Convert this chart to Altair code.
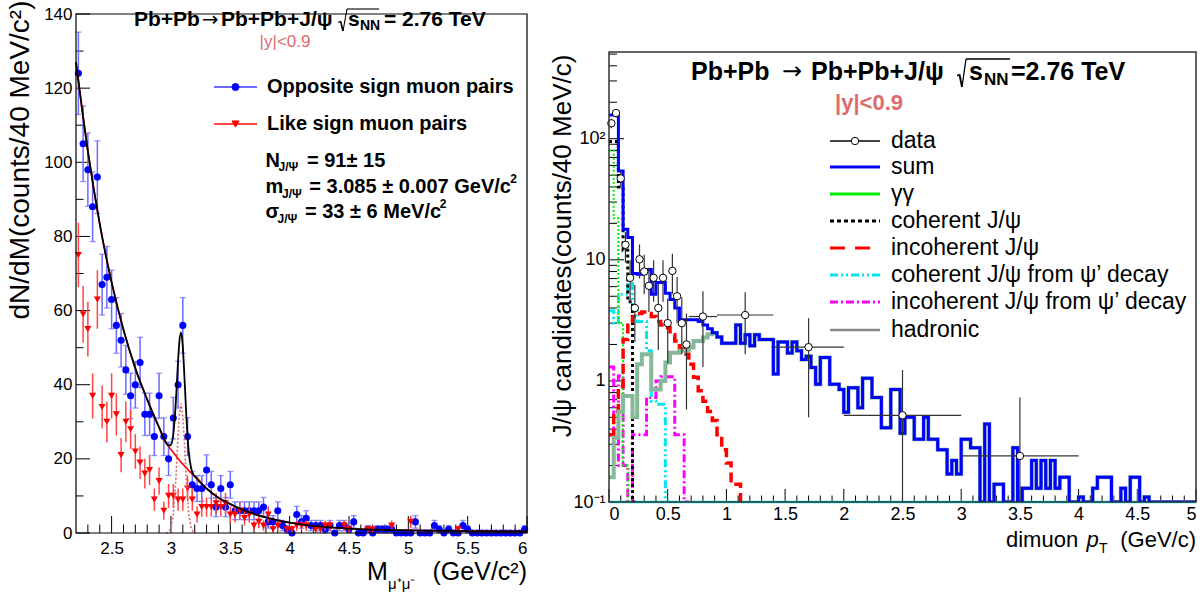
import altair as alt
import numpy as np
import pandas as pd

FONT = "Liberation Sans"
SALMON = "#dc6b6b"

# ---------------- left panel: dimuon invariant mass ----------------
mass_start = 2.2
mass_bin = 0.04
opp_counts = [124, 105, 98, 88, 96, 67, 69, 63, 56, 52,
              44, 37, 40, 46, 32, 32, 26, 37, 26, 20,
              31, 40, 56, 26, 13, 12, 12, 17, 13, 7,
              12, 7, 13, 6, 6, 6, 6, 6, 6, 7,
              3, 3, 6, 2, 1, 0, 5, 3, 4, 2,
              2, 2, 1, 2, 0, 2, 2, 1, 3, 0,
              0, 1, 0, 1, 1, 1, 1, 0, 0, 0,
              0, 3, 0, 0, 0, 2, 1, 0, 1, 0,
              0, 2, 1, 0, 0, 0, 0, 0, 0, 0,
              0, 0, 0, 0, 1]
opp_err = [11.1, 10.2, 9.9, 9.4, 9.8, 8.2, 8.3, 7.9, 7.5, 7.2,
           6.6, 6.1, 6.3, 6.8, 5.7, 5.7, 5.1, 6.1, 5.1, 4.5,
           5.6, 6.3, 7.5, 5.1, 3.6, 3.5, 3.5, 4.1, 3.6, 2.6,
           3.5, 2.6, 3.6, 2.4, 2.4, 2.4, 2.4, 2.4, 2.4, 2.6,
           1.7, 1.7, 2.4, 1.4, 1.0, 0, 2.2, 1.7, 2.0, 1.4,
           1.4, 1.4, 1.0, 1.4, 0, 1.4, 1.4, 1.0, 1.7, 0,
           0, 1.0, 0, 1.0, 1.0, 1.0, 1.0, 0, 0, 0,
           0, 1.7, 0, 0, 0, 1.4, 1.0, 0, 1.0, 0,
           0, 1.4, 1.0, 0, 0, 0, 0, 0, 0, 0,
           0, 0, 0, 0, 1.0]
like_counts = [75, 59, 55, 37, 63, 34, 30, 37, 32, 21,
               30, 28, 22, 19, 16, 17, 9, 14, 6, 10,
               10, 9, 9, 12, 9, 5, 7, 7, 7, 8,
               7, 8, 5, 5, 6, 4, 5, 2, 3, 2,
               5, 1, 2, 0, 1, 1, 2, 2, 2, 0,
               1, 1, 2, 2, 0, 0, 2, 1, 0, 0,
               0, 1, 1, 0, 0, 0, 2, 0, 0, 0,
               3, 0, 0, 0, 0, 0, 0, 0, 0, 0,
               1, 0, 0, 0, 0, 0, 0, 0, 0, 0,
               0, 0, 0, 0, 0]
like_err = [8.7, 7.7, 7.4, 6.1, 7.9, 5.8, 5.5, 6.1, 5.7, 4.6,
            5.5, 5.3, 4.7, 4.4, 4.0, 4.1, 3.0, 3.7, 2.4, 3.2,
            3.2, 3.0, 3.0, 3.5, 3.0, 2.2, 2.6, 2.6, 2.6, 2.8,
            2.6, 2.8, 2.2, 2.2, 2.4, 2.0, 2.2, 1.4, 1.7, 1.4,
            2.2, 1.0, 1.4, 0, 1.0, 1.0, 1.4, 1.4, 1.4, 0,
            1.0, 1.0, 1.4, 1.4, 0, 0, 1.4, 1.0, 0, 0,
            0, 1.0, 1.0, 0, 0, 0, 1.4, 0, 0, 0,
            1.7, 0, 0, 0, 0, 0, 0, 0, 0, 0,
            1.0, 0, 0, 0, 0, 0, 0, 0, 0, 0,
            0, 0, 0, 0, 0]
fit_x = [2.20, 2.30, 2.40, 2.50, 2.60, 2.70, 2.80, 2.90, 2.96, 2.98,
         3.00, 3.02, 3.04, 3.06, 3.07, 3.085, 3.10, 3.11, 3.13, 3.15,
         3.17, 3.19, 3.20, 3.30, 3.40, 3.50, 3.60, 3.80, 4.00, 4.20,
         4.50, 5.00, 5.50, 6.00]
fit_bg = [127, 103, 83.4, 67.6, 54.8, 44.4, 36.0, 28.5, 24.3, 23.4,
          22.5, 21.7, 20.9, 20.1, 19.7, 19.1, 18.6, 18.2, 17.6, 16.8,
          16.2, 15.5, 15.3, 12.0, 9.5, 7.8, 6.3, 4.2, 2.8, 1.9,
          1.2, 0.7, 0.5, 0.4]
fit_total = [127, 103, 83.4, 67.6, 54.8, 44.4, 36.0, 28.5, 24.3, 23.6,
             23.8, 26.7, 34.7, 46.4, 51.3, 54.1, 50.2, 44.5, 31.4, 21.8,
             17.5, 15.7, 15.3, 12.0, 9.5, 7.8, 6.3, 4.2, 2.8, 1.9,
             1.2, 0.7, 0.5, 0.4]
sig_x = [2.96, 2.98, 3.00, 3.02, 3.04, 3.06, 3.07, 3.085, 3.10, 3.11,
         3.13, 3.15, 3.17, 3.19, 3.21]
sig_y = [0.0, 0.2, 1.3, 5.0, 13.8, 26.3, 31.6, 35.0, 31.6, 26.3,
         13.8, 5.0, 1.3, 0.2, 0.0]
mass_major = [2.5, 3, 3.5, 4, 4.5, 5, 5.5, 6]
count_major = [0, 20, 40, 60, 80, 100, 120, 140]
count_minor = [10, 30, 50, 70, 90, 110, 130]

# ---------------- right panel: dimuon pT ----------------
pt_bin = 0.04
sum_vals = [157, 157, 54, 17.9, 15.3, 7.7, 7.6, 8.1, 8.3, 5.2,
            6.5, 6.5, 5.3, 4.7, 4.0, 3.2, 3.2, 3.2, 3.2, 3.1,
            2.9, 2.7, 2.5, 2.3, 2.05, 2.05, 2.05, 2.9, 2.05, 2.4,
            1.95, 2.4, 2.2, 2.2, 2.2, 1.14, 2.1, 2.1, 1.7, 2.1,
            1.77, 1.5, 1.6, 1.29, 0.94, 1.56, 1.56, 0.94, 0.94, 0.85,
            0.55, 0.88, 0.88, 0.6, 1.05, 1.05, 0.73, 0.73, 0.41, 0.41,
            0.85, 0.85, 0.37, 0.5, 0.5, 0.33, 0.33, 0.5, 0.33, 0.33,
            0.27, 0.27, 0.17, 0.22, 0.17, 0.33, 0.33, 0.28, 0.28, 0.1,
            0.44, 0.1, 0.14, 0.14, 0.1, 0.1, 0.28, 0.1, 0.13, 0.13,
            0.22, 0.13, 0.22, 0.13, 0.22, 0.13, 0.16, 0.16, 0.1, 0.1,
            0.11, 0.1, 0.1, 0.13, 0.16, 0.16, 0.16, 0.1, 0.1, 0.13,
            0.1, 0.16, 0.16, 0.1, 0.11, 0.1, 0.1, 0.1, 0.1, 0.1,
            0.1, 0.1, 0.1, 0.1, 0.1]
# hadronic template: below 0.92 GeV/c read separately, above it coincides with the sum
hadronic_low = [0.16, 0.34, 0.56, 0.75, 0.75, 0.50, 1.37, 1.66, 1.66, 0.85,
                0.85, 1.0, 1.42, 1.71, 1.71, 1.77, 1.77, 1.89, 2.14, 2.14,
                2.28, 2.43, 2.5]
incoh_vals = [0.36, 0.56, 0.9, 2.2, 3.0, 3.4, 3.6, 3.7, 3.6, 3.4,
              3.1, 2.9, 2.75, 2.4, 2.14, 1.83, 1.66, 1.37, 1.07, 0.83,
              0.68, 0.56, 0.47, 0.36, 0.27, 0.21, 0.14, 0.14, 0.1]
coh_vals = [95, 95, 40, 12, 4.5, 0.1]
gg_vals = [80, 22, 3.0, 0.2, 0.1]
coh_psi2s_vals = [3.8, 3.0, 5.2, 5.2, 7.0, 4.0, 3.1, 3.1, 1.77, 0.68, 0.64, 0.64, 0.1]
incoh_psi2s_vals = [1.3, 0.2, 1.1, 0.2, 0.1, 0.36, 0.36, 0.36, 0.73, 0.73,
                    1.0, 1.08, 1.08, 1.08, 0.36, 0.36, 0.1]
data_pt = [0.02, 0.06, 0.10, 0.14, 0.18, 0.22, 0.26, 0.30, 0.34, 0.38,
           0.42, 0.46, 0.50, 0.54, 0.58, 0.62, 0.66, 0.80, 1.16, 1.70, 2.50, 3.50]
data_val = [134, 163, 47, 13.3, 7.1, 4.0, 10.1, 8.0, 6.1, 7.1,
            4.0, 7.1, 3.0, 8.1, 5.0, 3.0, 2.0, 3.4, 3.5, 1.9, 0.52, 0.24]
data_lo = [122, 150, 40, 9.5, 4.5, 2.1, 7.0, 5.2, 3.7, 4.5,
           1.8, 4.5, 1.4, 5.2, 3.0, 1.66, 0.58, 1.3, 1.66, 0.5, 0.1, 0.1]
data_hi = [146, 176, 54, 17, 9.9, 6.2, 13.4, 11, 8.6, 9.9,
           6.3, 9.9, 4.8, 11.2, 7.2, 4.9, 3.6, 5.5, 5.4, 3.3, 1.23, 0.73]
data_xlo = [0.0, 0.04, 0.08, 0.12, 0.16, 0.20, 0.24, 0.28, 0.32, 0.36,
            0.40, 0.44, 0.48, 0.52, 0.56, 0.60, 0.64, 0.68, 0.92, 1.40, 2.0, 3.0]
data_xhi = [0.04, 0.08, 0.12, 0.16, 0.20, 0.24, 0.28, 0.32, 0.36, 0.40,
            0.44, 0.48, 0.52, 0.56, 0.60, 0.64, 0.68, 0.92, 1.40, 2.0, 3.0, 4.0]
pt_major = [0, 0.5, 1, 1.5, 2, 2.5, 3, 3.5, 4, 4.5, 5]
yield_major = [0.1, 1, 10, 100]
yield_minor = [0.2, 0.3, 0.4, 0.5, 0.6, 0.7, 0.8, 0.9, 2, 3, 4, 5, 6, 7, 8, 9,
               20, 30, 40, 50, 60, 70, 80, 90, 200, 300, 400, 500]

ONE = pd.DataFrame({"a": [0]})


def txt(x, y, s, size, bold=False, align="left", color="black", angle=None, italic=False, font=FONT):
    kw = dict(text=s, align=align, baseline="middle", fontSize=size, font=font,
              color=color, fontWeight="bold" if bold else "normal")
    if angle is not None:
        kw["angle"] = angle
    if italic:
        kw["fontStyle"] = "italic"
    return alt.Chart(ONE).mark_text(**kw).encode(x=alt.value(x), y=alt.value(y))


def seg(x1, x2, y1, y2, color, width, dash=None, opacity=1.0):
    kw = dict(color=color, strokeWidth=width, strokeOpacity=opacity)
    if dash:
        kw["strokeDash"] = dash
    return alt.Chart(ONE).mark_rule(**kw).encode(
        x=alt.value(x1), x2=alt.value(x2), y=alt.value(y1), y2=alt.value(y2))


def sqrt_sign(x0, ytop, ybot, xend, width):
    """Radical sign drawn with strokes, ROOT-style, ending in an overline."""
    ymid = ybot - (ybot - ytop) * 0.45
    return [
        seg(x0, x0 + 2.5, ymid + 1.5, ymid, "black", width),
        seg(x0 + 2.5, x0 + 5, ymid, ybot, "black", width + 0.6),
        seg(x0 + 5, x0 + 9, ybot, ytop, "black", width),
        seg(x0 + 9, xend, ytop, ytop, "black", width),
    ]


def marker(x, y, shape, size, fill, stroke):
    return alt.Chart(ONE).mark_point(shape=shape, size=size, filled=True, fill=fill,
                                     stroke=stroke, opacity=1, strokeWidth=1).encode(
        x=alt.value(x), y=alt.value(y))


def frame(w, y0, y1, color, width):
    return alt.Chart(ONE).mark_rect(fillOpacity=0, stroke=color, strokeWidth=width).encode(
        x=alt.value(0), x2=alt.value(w), y=alt.value(y0), y2=alt.value(y1))


def lab_axis(values, pad, size, fmt=None, expr=None):
    kw = dict(values=values, labelPadding=pad, labelFontSize=size, labelFont=FONT,
              labelColor="black", ticks=False, domain=False, grid=False, title=None,
              labelOverlap=False)
    if fmt:
        kw["format"] = fmt
    if expr:
        kw["labelExpr"] = expr
    return alt.Axis(**kw)


# ======================= LEFT CHART =======================
WL, HL = 451, 519
xL = alt.Scale(domain=[2.2, 6.0], nice=False, zero=False)
yL = alt.Scale(domain=[0, 140], nice=False, zero=False)
axXL = lab_axis(mass_major, 7, 17, fmt="~g")
axYL = lab_axis(count_major, 4, 17, fmt="d")


def XL(f):
    return alt.X(f, scale=xL, axis=axXL)


def YL(f):
    return alt.Y(f, scale=yL, axis=axYL)


n = len(opp_counts)
centers = [round(mass_start + mass_bin * (i + 0.5), 3) for i in range(n)]
opp = pd.DataFrame({"m": centers, "v": opp_counts, "e": opp_err})
opp["lo"] = opp["v"] - opp["e"]
opp["hi"] = opp["v"] + opp["e"]
opp_b = opp[opp["e"] > 0]
like = pd.DataFrame({"m": centers, "v": like_counts, "e": like_err})
like["lo"] = like["v"] - like["e"]
like["hi"] = like["v"] + like["e"]
like = like[like["v"] > 0]

mx_minor = [round(2.3 + 0.1 * i, 1) for i in range(37)]
mx_minor = [v for v in mx_minor if round(v * 2) != v * 2]


def xtick_layer(vals, X, h, length):
    return alt.Chart(pd.DataFrame({"t": vals})).mark_rule(color="black", strokeWidth=1).encode(
        x=X("t:Q"), y=alt.value(h), y2=alt.value(h - length))


def ytick_layer(vals, Y, length):
    return alt.Chart(pd.DataFrame({"t": vals})).mark_rule(color="black", strokeWidth=1).encode(
        y=Y("t:Q"), x=alt.value(0), x2=alt.value(length))


left_layers = [
    seg(-76, -75, -14, -13, "white", 1, opacity=0),
    xtick_layer(mass_major, XL, HL, 17),
    xtick_layer(mx_minor, XL, HL, 8.5),
    ytick_layer(count_major, YL, 14),
    ytick_layer(count_minor, YL, 7.5),
    alt.Chart(opp_b).mark_rule(color="#6b6bff", strokeWidth=1.5).encode(
        x=XL("m:Q"), y=YL("lo:Q"), y2="hi:Q"),
    alt.Chart(opp_b).mark_tick(orient="horizontal", size=6, thickness=1.3, color="#6b6bff").encode(
        x=XL("m:Q"), y=YL("hi:Q")),
    alt.Chart(opp_b).mark_tick(orient="horizontal", size=6, thickness=1.3, color="#6b6bff").encode(
        x=XL("m:Q"), y=YL("lo:Q")),
    alt.Chart(opp).mark_point(shape="circle", filled=True, size=50, color="#0000ff", opacity=1).encode(
        x=XL("m:Q"), y=YL("v:Q")),
    alt.Chart(like).mark_rule(color="#ff4747", strokeWidth=1.5).encode(
        x=XL("m:Q"), y=YL("lo:Q"), y2="hi:Q"),
    alt.Chart(like).mark_point(shape="triangle-down", filled=True, size=50, color="#ff0000", opacity=1).encode(
        x=XL("m:Q"), y=YL("v:Q")),
    alt.Chart(pd.DataFrame({"m": sig_x, "v": sig_y})).mark_line(
        color="#e06a6a", strokeWidth=1.6, strokeDash=[2, 2]).encode(
        x=XL("m:Q"), y=YL("v:Q")),
    alt.Chart(pd.DataFrame({"m": fit_x, "v": fit_bg})).mark_line(
        color="#ff0000", strokeWidth=1.6, interpolate="monotone").encode(
        x=XL("m:Q"), y=YL("v:Q")),
    alt.Chart(pd.DataFrame({"m": fit_x, "v": fit_total})).mark_line(
        color="#000000", strokeWidth=1.8, interpolate="monotone").encode(
        x=XL("m:Q"), y=YL("v:Q")),
    frame(WL, 0, HL, "black", 1.2),
    # title
    txt(58, 6, "Pb+Pb", 21, bold=True),
    txt(134, 6, "\u2192", 20, align="center", font="DejaVu Sans"),
    txt(145, 6, "Pb+Pb+J/\u03c8", 21, bold=True),
    *sqrt_sign(262, -5, 17, 303, 1.1),
    txt(272, 6, "s", 21, bold=True),
    txt(284, 12, "NN", 14, bold=True),
    txt(308, 6, "= 2.76 TeV", 21, bold=True),
    txt(209, 28, "|y|<0.9", 17, align="center", color=SALMON),
    # legend
    seg(138, 181, 73, 73, "#6b6bff", 2),
    marker(159.5, 73, "circle", 50, "#0000ff", "#0000ff"),
    txt(191, 73, "Opposite sign muon pairs", 20, bold=True),
    seg(138, 181, 110, 110, "#ff4747", 2),
    marker(159.5, 110, "triangle-down", 50, "#ff0000", "#ff0000"),
    txt(191, 110, "Like sign muon pairs", 20, bold=True),
    # fit results
    txt(189.5, 147, "N", 20, bold=True),
    txt(202.6, 153, "J/\u03a8", 12, bold=True),
    txt(231, 147, "= 91\u00b1 15", 20, bold=True),
    txt(189.5, 173, "m", 20, bold=True),
    txt(206, 180, "J/\u03a8", 12, bold=True),
    txt(233.3, 173, "= 3.085 \u00b1 0.007 GeV/c", 20, bold=True),
    txt(434.3, 165, "2", 12, bold=True),
    txt(189.5, 198, "\u03c3", 20, bold=True),
    txt(201.6, 205, "J/\u03a8", 12, bold=True),
    txt(229, 198, "= 33 \u00b1 6 MeV/c", 20, bold=True),
    txt(363.7, 190, "2", 12, bold=True),
    # axis titles
    txt(-55, 146, "dN/dM(counts/40 MeV/c\u00b2)", 28, align="center", angle=270),
    txt(291, 558, "M", 25),
    txt(312, 570, "\u03bc\u207a\u03bc\u207b", 15),
    txt(451, 558, "(GeV/c\u00b2)", 25, align="right"),
]
left = alt.layer(*left_layers).properties(width=WL, height=HL)

# ======================= RIGHT CHART =======================
WR, HR = 587, 488
TOP = 38
xR = alt.Scale(domain=[0, 5], nice=False, zero=False)
yR = alt.Scale(type="log", domain=[0.1, 520], range=[HR, TOP], nice=False, clamp=True)
axXR = lab_axis(pt_major, 3, 18, fmt="~g")
axYR = lab_axis(yield_major, 4, 18,
                expr="datum.value < 0.5 ? '10\u207b\u00b9' : datum.value < 5 ? '1' : datum.value < 50 ? '10' : '10\u00b2'")


def XR(f):
    return alt.X(f, scale=xR, axis=axXR)


def YR(f):
    return alt.Y(f, scale=yR, axis=axYR)


def hist_df(vals):
    xs = [round(i * pt_bin, 2) for i in range(len(vals) + 1)]
    ys = list(vals) + [vals[-1]]
    return pd.DataFrame({"pt": xs, "v": ys})


def hist_layer(vals, color, width, dash=None):
    kw = dict(color=color, strokeWidth=width, interpolate="step-after", clip=True)
    if dash:
        kw["strokeDash"] = dash
    return alt.Chart(hist_df(vals)).mark_line(**kw).encode(x=XR("pt:Q"), y=YR("v:Q"))


hadronic_vals = hadronic_low + sum_vals[len(hadronic_low):]
dat = pd.DataFrame({"pt": data_pt, "v": data_val, "lo": data_lo, "hi": data_hi,
                    "xlo": data_xlo, "xhi": data_xhi})
px_minor = [round(0.1 * i, 1) for i in range(51)]
px_minor = [v for v in px_minor if round(v * 2) != v * 2]

MAG = "#ff00ff"
CYA = "#00e5ee"
leg_y = [127, 153, 180, 207, 234, 261, 288, 316]
LX1, LX2, LT = 221, 271, 282

right_layers = [
    xtick_layer(pt_major, XR, HR, 13),
    xtick_layer(px_minor, XR, HR, 6.5),
    ytick_layer(yield_major, YR, 15),
    ytick_layer(yield_minor, YR, 8),
    alt.Chart(ONE).mark_rule(color=CYA, strokeWidth=2.5).encode(
        y=alt.datum(0.1, scale=yR, axis=axYR)),
    hist_layer(incoh_psi2s_vals, MAG, 3, [8, 3, 2, 3]),
    hist_layer(coh_psi2s_vals, CYA, 3, [8, 3, 2, 3, 2, 3]),
    hist_layer(gg_vals, "#00ee00", 2, [2, 2]),
    hist_layer(coh_vals, "#000000", 3, [3, 3]),
    hist_layer(incoh_vals, "#ff0000", 3.5, [10, 5]),
    hist_layer(hadronic_vals, "#86b89a", 4),
    hist_layer(sum_vals, "#0000ff", 3),
    alt.Chart(dat).mark_rule(color="#333333", strokeWidth=1.2).encode(
        x=XR("pt:Q"), y=YR("lo:Q"), y2="hi:Q"),
    alt.Chart(dat).mark_rule(color="#333333", strokeWidth=1.2).encode(
        x=XR("xlo:Q"), x2="xhi:Q", y=YR("v:Q")),
    alt.Chart(dat).mark_point(shape="circle", filled=True, fill="white", stroke="black",
                              strokeWidth=1, size=55, opacity=1).encode(
        x=XR("pt:Q"), y=YR("v:Q")),
    frame(WR, TOP, HR, "#333333", 1.5),
    # title
    txt(82, 58, "Pb+Pb", 25, bold=True),
    txt(183, 58, "\u2192", 24, align="center", font="DejaVu Sans"),
    txt(202, 58, "Pb+Pb+J/\u03c8", 25, bold=True),
    *sqrt_sign(348, 45, 73, 401, 1.3),
    txt(360, 58, "s", 25, bold=True),
    txt(375, 66, "NN", 17, bold=True),
    txt(402, 58, "=2.76 TeV", 25, bold=True),
    txt(260, 89, "|y|<0.9", 22, bold=True, align="center", color=SALMON),
    # legend
    seg(LX1, LX2, leg_y[0], leg_y[0], "#444444", 2),
    marker((LX1 + LX2) / 2, leg_y[0], "circle", 55, "white", "black"),
    txt(LT, leg_y[0], "data", 23),
    seg(LX1, LX2, leg_y[1], leg_y[1], "#0000ff", 3),
    txt(LT, leg_y[1], "sum", 23),
    seg(LX1, LX2, leg_y[2], leg_y[2], "#00ee00", 3),
    txt(LT, leg_y[2], "\u03b3\u03b3", 23),
    seg(LX1, LX2, leg_y[3], leg_y[3], "#000000", 3, [4, 3]),
    txt(LT, leg_y[3], "coherent J/\u03c8", 23),
    seg(LX1, LX2, leg_y[4], leg_y[4], "#ff0000", 3, [15, 10]),
    txt(LT, leg_y[4], "incoherent J/\u03c8", 23),
    seg(LX1, LX2, leg_y[5], leg_y[5], CYA, 3, [8, 3, 2, 3, 2, 3]),
    txt(LT, leg_y[5], "coherent J/\u03c8 from \u03c8\u2019 decay", 23),
    seg(LX1, LX2, leg_y[6], leg_y[6], MAG, 3, [8, 3, 2, 3]),
    txt(LT, leg_y[6], "incoherent J/\u03c8 from \u03c8\u2019 decay", 23),
    seg(LX1, LX2, leg_y[7], leg_y[7], "#888888", 2.5),
    txt(LT, leg_y[7], "hadronic", 23),
    # axis titles
    txt(-46, 232, "J/\u03c8 candidates(counts/40 MeV/c)", 26, align="center", angle=270),
    txt(397, 526, "dimuon", 22),
    txt(477.5, 526, "p", 22, italic=True),
    txt(490, 535, "T", 14),
    txt(587, 526, "(GeV/c)", 22, align="right"),
]
right = alt.layer(*right_layers).properties(width=WR, height=HR)

chart = alt.hconcat(left, right, spacing=82, bounds="flush").properties(
    padding=0, background="white"
).configure_view(stroke=None)

chart.save("out.html", embed_options={"renderer": "svg", "actions": False})
